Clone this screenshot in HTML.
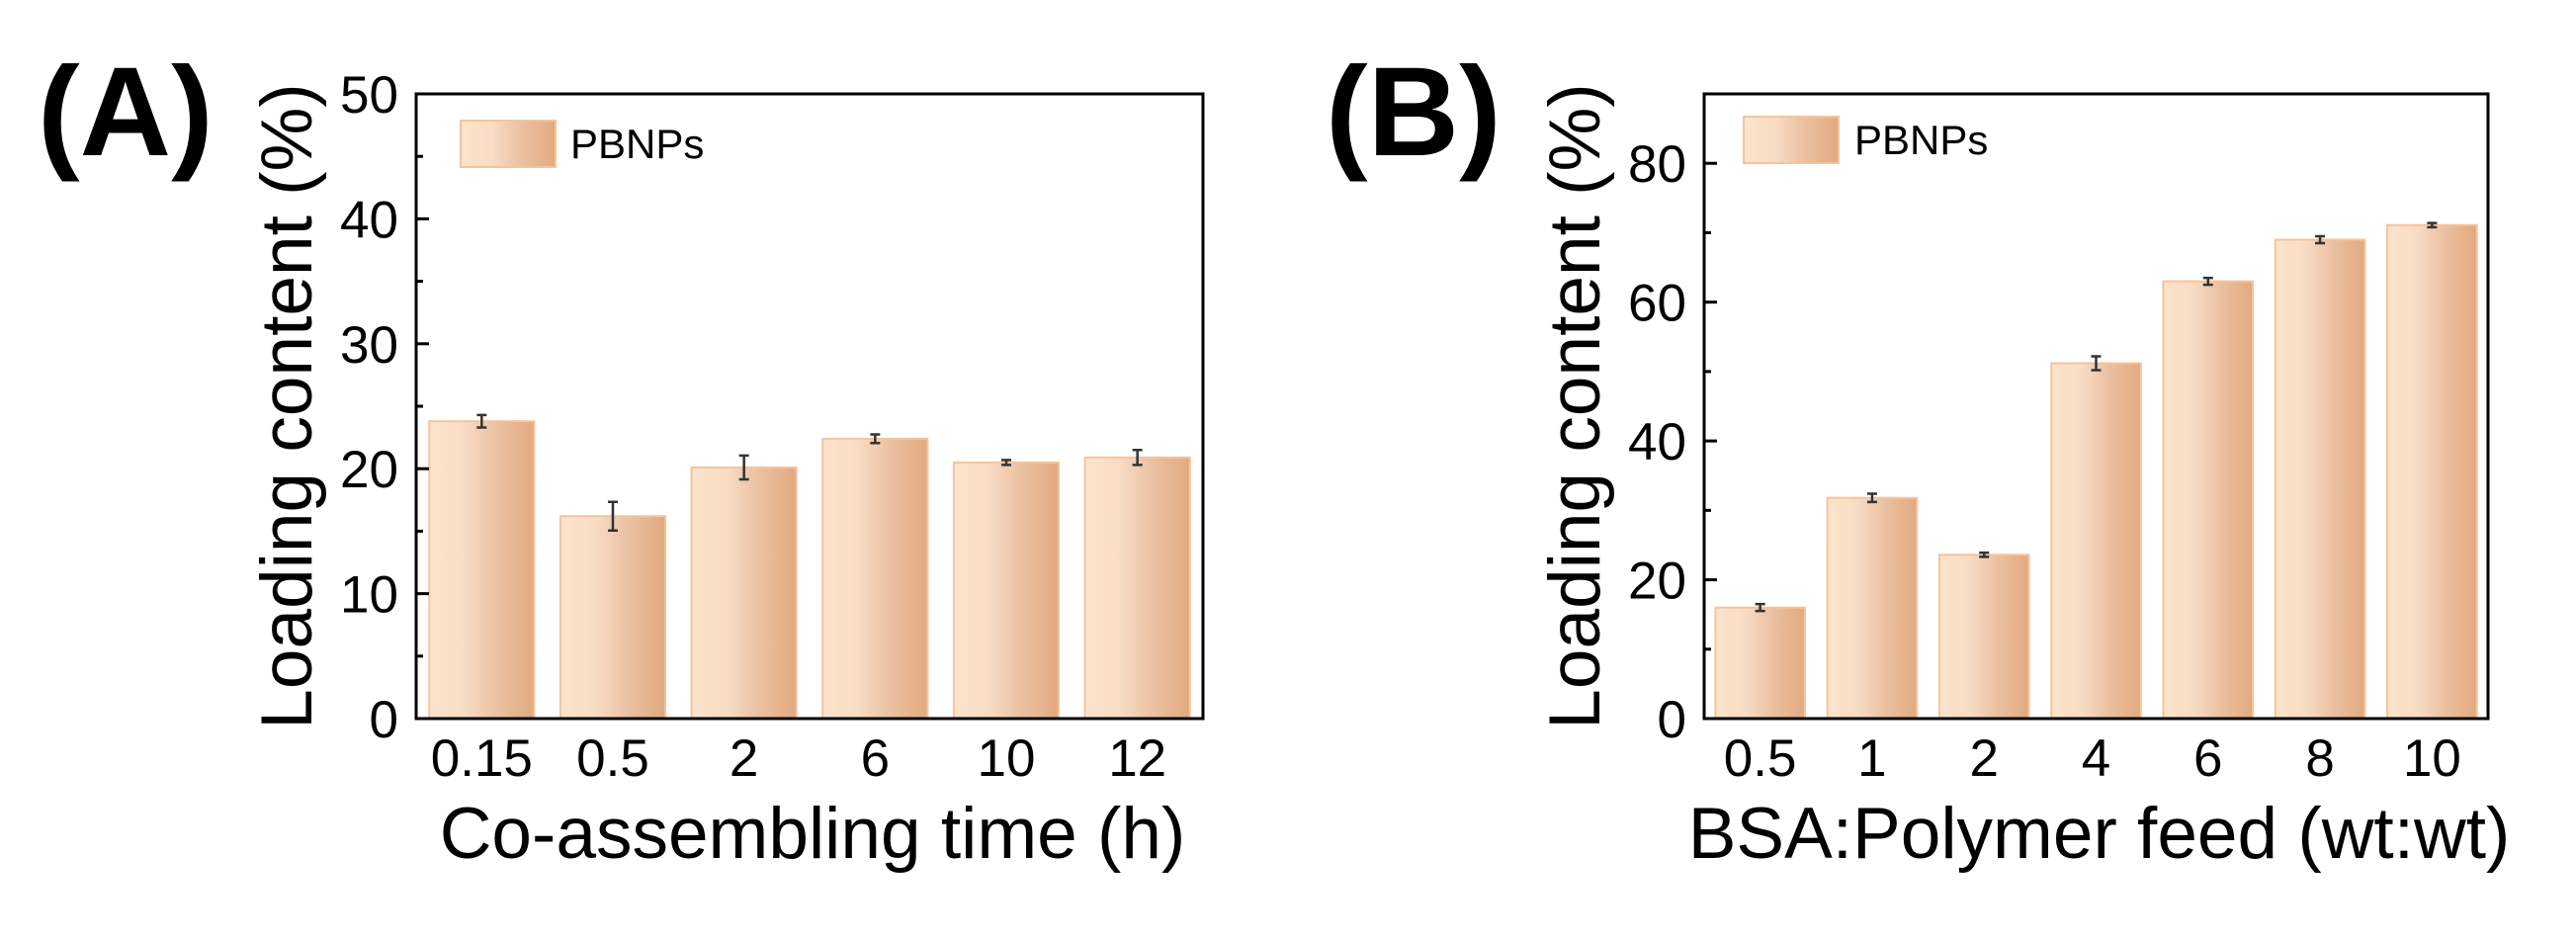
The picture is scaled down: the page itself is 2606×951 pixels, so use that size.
<!DOCTYPE html>
<html><head><meta charset="utf-8"><style>
html,body{margin:0;padding:0;background:#fff;}
svg{display:block;font-family:"Liberation Sans",Arial,sans-serif;}
</style></head><body>
<svg id="fig" width="2606" height="951" viewBox="0 0 2606 951" xmlns="http://www.w3.org/2000/svg">
<defs>
<linearGradient id="barGrad" x1="0" y1="0" x2="1" y2="0">
<stop offset="0" stop-color="#fde4cc"/>
<stop offset="0.35" stop-color="#f8dbc3"/>
<stop offset="0.6" stop-color="#ecc4a6"/>
<stop offset="1" stop-color="#e2a97e"/>
</linearGradient>
</defs>
</svg>
<script>
const catsA = ["0.15","0.5","2","6","10","12"];
const valsA = [23.8,16.2,20.1,22.4,20.5,20.9];
const errsA = [0.5,1.15,0.95,0.35,0.2,0.6];
const ticksA = [0,10,20,30,40,50];
const catsB = ["0.5","1","2","4","6","8","10"];
const valsB = [16.0,31.8,23.6,51.2,63.0,69.0,71.1];
const errsB = [0.5,0.6,0.3,1.0,0.5,0.5,0.3];
const ticksB = [0,20,40,60,80];

const NS="http://www.w3.org/2000/svg";
const svg=document.getElementById('fig');
function mk(tag,attrs,parent){const e=document.createElementNS(NS,tag);for(const k in attrs)e.setAttribute(k,attrs[k]);(parent||svg).appendChild(e);return e;}

function panel(off,label,cats,vals,errs,ticks,ymax,minorStep,xTitle,id){
  const L=421+off,R=(id==='a'?1217:1214)+off,T=95,B=727;
  const g=mk('g',{});
  
  
  const ys=v=>B-(v/ymax)*(B-T);
  const step=(R-L)/cats.length;
  const xc=i=>L+step*(i+0.5);
  const bw=step*0.8;
  // panel label
  const pl=mk('text',{x:38+off,y:157,'font-size':128,'font-weight':'bold',fill:'#000'},g);
  pl.textContent=label;
  
  
  // bars
  cats.forEach((c,i)=>{
    const r=mk('rect',{x:xc(i)-bw/2,y:ys(vals[i]),width:bw,height:B-ys(vals[i]),fill:'url(#barGrad)',stroke:'#f4c49c','stroke-width':2},g);
    
    
    const x=xc(i),y1=ys(vals[i]+errs[i]),y2=ys(vals[i]-errs[i]);
    const eb=mk('path',{d:`M${x},${y1}V${y2}M${x-5},${y1}H${x+5}M${x-5},${y2}H${x+5}`,stroke:'#333','stroke-width':2.5,fill:'none'},g);
    
    
    const t=mk('text',{x:x,y:785,'font-size':53,'text-anchor':'middle',fill:'#000'},g);
    t.textContent=c;
    
    
  });
  // ticks
  ticks.forEach(v=>{
    const y=ys(v);
    const tk=mk('line',{x1:L,x2:L+13,y1:y,y2:y,stroke:'#000','stroke-width':3},g);
    
    
    const t=mk('text',{x:L-18,y:y+19,'font-size':53,'text-anchor':'end',fill:'#000'},g);
    t.textContent=v;
    
    
  });
  for(let v=minorStep;v<ymax;v+=2*minorStep){
    const y=ys(v);
    const mt=mk('line',{x1:L,x2:L+7,y1:y,y2:y,stroke:'#000','stroke-width':3},g);
    
    
  }
  // frame
  const fr=mk('rect',{x:L,y:T,width:R-L,height:B-T,fill:'none',stroke:'#000','stroke-width':3},g);
  
  
  // legend
  const lb=mk('rect',{x:(id==='a'?466:1764-1303)+off,y:(id==='a'?122:118),width:96,height:47,fill:'url(#barGrad)',stroke:'#f4c49c','stroke-width':2},g);
  
  
  const lt=mk('text',{x:(id==='a'?577:1876-1303)+off,y:(id==='a'?160:156),'font-size':42,fill:'#000'},g);
  lt.textContent='PBNPs';
  
  
  // axis titles
  const xt=mk('text',{x:(L+R)/2+3,y:868,'font-size':73,'text-anchor':'middle',fill:'#000'},g);
  xt.textContent=xTitle;
  
  
  const yt=mk('text',{x:0,y:0,'font-size':73,'text-anchor':'middle',fill:'#000',transform:`translate(${315+off},${411}) rotate(-90)`},g);
  yt.textContent='Loading content (%)';
  
  
}
panel(0,'(A)',catsA,valsA,errsA,ticksA,50,5,'Co-assembling time (h)','a');
panel(1303,'(B)',catsB,valsB,errsB,ticksB,90,10,'BSA:Polymer feed (wt:wt)','b');
</script>
</body></html>
